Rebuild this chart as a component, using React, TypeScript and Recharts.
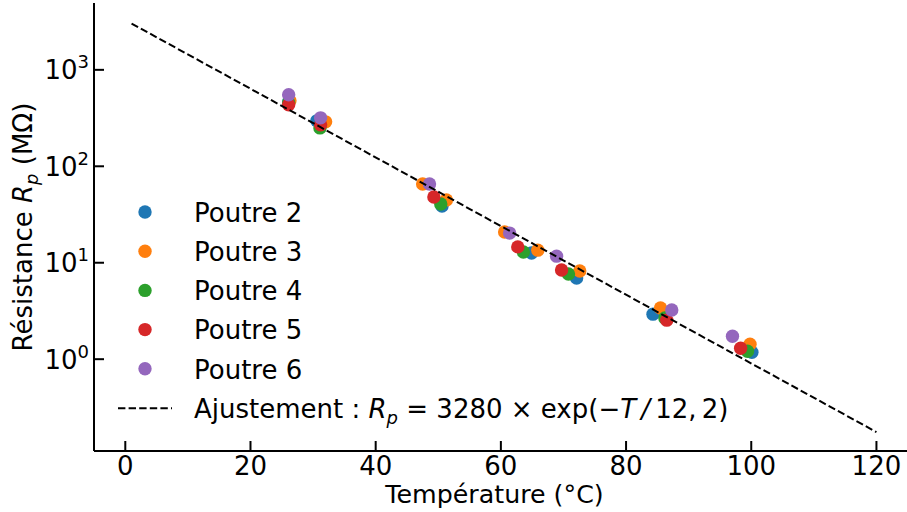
import React from 'react';
import { ScatterChart, Scatter, XAxis, YAxis } from 'recharts';

// ---- data (temperature °C, resistance MΩ) ----
const poutre2T = [26.1, 30.6, 50.6, 64.9, 72.1, 84.3, 100.1];
const poutre2R = [467, 296, 38.8, 12.6, 6.93, 2.93, 1.18];

const poutre3T = [26.3, 32.0, 47.5, 51.3, 60.6, 65.9, 72.6, 85.5, 99.8];
const poutre3R = [478, 289, 65.6, 44.8, 20.8, 13.5, 8.2, 3.39, 1.43];

const poutre4T = [26.1, 31.1, 50.4, 63.6, 70.8, 86.2, 99.4];
const poutre4R = [455, 250, 40.7, 12.9, 7.63, 2.67, 1.21];

const poutre5T = [26.1, 31.2, 49.3, 62.7, 69.7, 86.5, 98.3];
const poutre5R = [434, 269, 48.1, 14.6, 8.4, 2.54, 1.3];

const poutre6T = [26.1, 31.2, 48.6, 61.4, 68.9, 87.3, 97.0];
const poutre6R = [551, 318, 65.6, 20.3, 11.7, 3.23, 1.73];

// fit: Rp = 3280 * exp(-T/12.2), endpoints at T = 1 and T = 120
const fitT = [1, 120];
const fitR = [3022, 0.1755];

const xTicks = [0, 20, 40, 60, 80, 100, 120];
const yTicks = [1, 10, 100, 1000];

const seriesNames = ['Poutre 2', 'Poutre 3', 'Poutre 4', 'Poutre 5', 'Poutre 6'];
const seriesColors = ['#1f77b4', '#ff7f0e', '#2ca02c', '#d62728', '#9467bd'];

const toPts = (T: number[], R: number[]) => T.map((t, i) => ({ T: t, R: R[i] }));

const seriesData = [
  toPts(poutre2T, poutre2R),
  toPts(poutre3T, poutre3R),
  toPts(poutre4T, poutre4R),
  toPts(poutre5T, poutre5R),
  toPts(poutre6T, poutre6R),
];
const fitData = toPts(fitT, fitR);

const FONT = 'DejaVu Sans';
const FS = 26;

const XTick = (props: any) => {
  const { x, y, payload } = props;
  return (
    <g>
      <line x1={x} x2={x} y1={y} y2={y - 10} stroke="#000" strokeWidth={2} />
      <text x={x} y={y + 23.6} textAnchor="middle" fontSize={FS} fontFamily={FONT} fill="#000">
        {payload.value}
      </text>
    </g>
  );
};

const YTick = (props: any) => {
  const { x, y, payload } = props;
  const exp = Math.round(Math.log10(payload.value));
  return (
    <g>
      <line x1={x} x2={x + 10} y1={y} y2={y} stroke="#000" strokeWidth={2} />
      <text x={x - 5} y={y + 9.5} textAnchor="end" fontSize={FS} fontFamily={FONT} fill="#000">
        10<tspan fontSize={18} dy={-11}>{exp}</tspan>
      </text>
    </g>
  );
};

const XLabel = () => (
  <text x={494.5} y={503} textAnchor="middle" fontSize={25.3} fontFamily={FONT} fill="#000">
    Température (°C)
  </text>
);

const YLabel = () => (
  <text transform="translate(32, 227) rotate(-90)" textAnchor="middle" fontSize={FS} fontFamily={FONT} fill="#000">
    Résistance <tspan fontStyle="italic">R</tspan>
    <tspan fontStyle="italic" fontSize={18} dy={6}>p</tspan>
    <tspan dy={-6}> (MΩ)</tspan>
  </text>
);

const makeDot = (color: string) => (props: any) => (
  <circle cx={props.cx} cy={props.cy} r={6.7} fill={color} />
);
const noDot = () => <g />;

const LegendOverlay = () => (
  <svg
    width={907}
    height={512}
    style={{ position: 'absolute', left: 0, top: 0, pointerEvents: 'none' }}
  >
    {seriesNames.map((n, i) => (
      <g key={n}>
        <circle cx={145} cy={212 + i * 39.2} r={6.7} fill={seriesColors[i]} />
        <text x={194} y={212 + i * 39.2 + 9.7} fontSize={FS} fontFamily={FONT} fill="#000">
          {n}
        </text>
      </g>
    ))}
    <line x1={118} x2={172} y1={408.3} y2={408.3} stroke="#000" strokeWidth={2} strokeDasharray="7.4 3.2" />
    <text x={194} y={418} fontSize={FS} fontFamily={FONT} fill="#000">
      Ajustement : <tspan fontStyle="italic">R</tspan>
      <tspan fontStyle="italic" fontSize={18} dy={6}>p</tspan>
      <tspan dy={-6}>{' = 3280 × exp(−'}</tspan>
      <tspan fontStyle="italic">{'T\u2009/\u2009'}</tspan>
      <tspan>{'12,\u20092)'}</tspan>
    </text>
  </svg>
);

export default function App() {
  return (
    <div
      style={{
        position: 'absolute',
        left: 0,
        top: 0,
        width: 907,
        height: 512,
        overflow: 'hidden',
        background: '#fff',
      }}
    >
      <ScatterChart width={930} height={512} margin={{ top: 3, right: 16, left: 0, bottom: 0 }}>
        <XAxis
          xAxisId={0}
          dataKey="T"
          type="number"
          domain={[-5, 126]}
          allowDataOverflow
          ticks={xTicks}
          interval={0}
          tickSize={0}
          tickMargin={0}
          tickLine={false}
          tick={<XTick />}
          height={61}
          axisLine={{ stroke: '#000', strokeWidth: 2 }}
          label={<XLabel />}
        />
        <XAxis
          xAxisId="top"
          orientation="top"
          dataKey="T"
          type="number"
          domain={[-5, 126]}
          allowDataOverflow
          height={0}
          tick={false}
          tickLine={false}
          axisLine={{ stroke: '#000', strokeWidth: 2 }}
        />
        <YAxis
          dataKey="R"
          type="number"
          scale="log"
          domain={[0.1117, 4932]}
          allowDataOverflow
          ticks={yTicks}
          interval={0}
          tickSize={0}
          tickMargin={0}
          tickLine={false}
          tick={<YTick />}
          width={94}
          axisLine={{ stroke: '#000', strokeWidth: 2 }}
          label={<YLabel />}
        />
        {seriesData.map((d, i) => (
          <Scatter
            key={seriesNames[i]}
            name={seriesNames[i]}
            data={d}
            fill={seriesColors[i]}
            shape={makeDot(seriesColors[i])}
            isAnimationActive={false}
          />
        ))}
        <Scatter
          name="Ajustement"
          data={fitData}
          fill="#000"
          shape={noDot}
          line={{ stroke: '#000', strokeWidth: 2, strokeDasharray: '7.4 3.2' }}
          lineJointType="linear"
          isAnimationActive={false}
        />
      </ScatterChart>
      <LegendOverlay />
    </div>
  );
}
